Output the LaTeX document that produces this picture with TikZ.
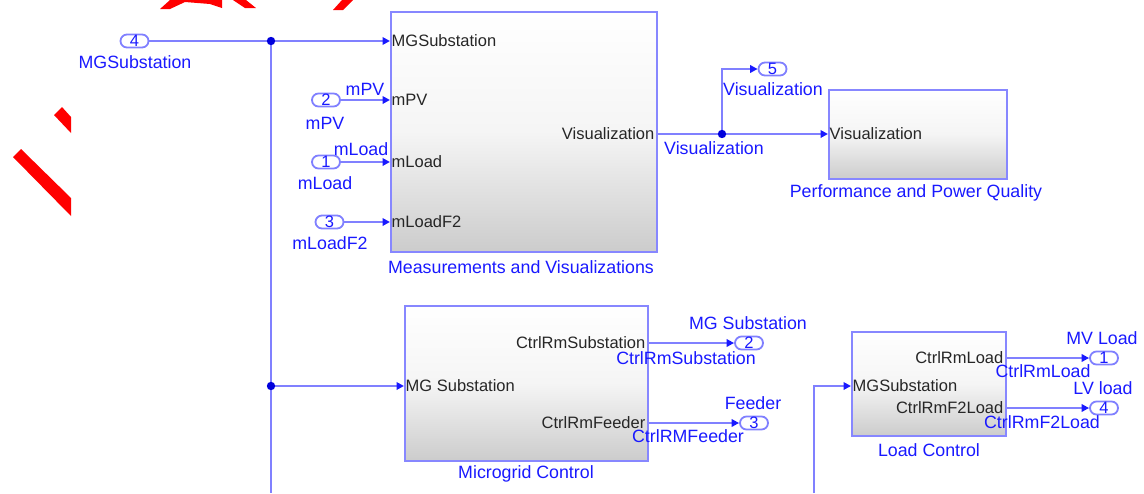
\documentclass[tikz,border=0pt]{standalone}
\usepackage{fontspec}
\setmainfont{Liberation Sans}
\usepackage{xcolor}
\usetikzlibrary{arrows.meta,shadows}

\definecolor{wire}{RGB}{128,128,255}
\definecolor{sigblue}{RGB}{25,25,255}
\definecolor{frameblue}{RGB}{135,135,255}
\definecolor{dotblue}{RGB}{0,0,220}

\tikzset{
    wireplain/.style={draw=wire, line width=2.9pt},
    wireline/.style={wireplain, -{Triangle[length=7.5pt,width=7.5pt,color=sigblue]}},
    blockbox/.style={draw=frameblue, line width=1.6pt, top color=white, bottom color=black!20,
        middle color=black!4, anchor=north west, inner sep=0pt,
        drop shadow={shadow xshift=1.5pt, shadow yshift=-1.5pt, opacity=0.25}},
    porttxt/.style={text=black!85, font=\fontsize{16.5}{19}\selectfont, inner sep=1.5pt},
    lbl/.style={text=sigblue, font=\fontsize{17.8}{20}\selectfont, inner sep=0pt},
    portoval/.style={draw=wire, fill=white, line width=1.8pt, rounded corners=6.5pt,
        minimum width=28pt, minimum height=13pt, inner sep=0pt, text=sigblue,
        font=\fontsize{16.5}{16.5}\selectfont},
}

\begin{document}
\begin{tikzpicture}[x=1pt, y=-1pt]
    \useasboundingbox (0,0) rectangle (1144,493);

    \fill[red] (160,9) -- (170,0) -- (222,0) -- (222,8) -- (210,4) -- (185,2) -- (170,9) -- cycle;
    \fill[red] (233,0) -- (246,0) -- (256,8) -- (245,8) -- cycle;
    \fill[red] (342,0) -- (353,0) -- (343,10) -- (333,10) -- cycle;
    \fill[red] (54,115) -- (62,107) -- (71,117) -- (71,133) -- cycle;
    \fill[red] (13,157) -- (21,149) -- (71,198) -- (71,216) -- cycle;

    % blocks
    \node[blockbox, minimum width=266, minimum height=240] (meas) at (390,11) {};
    \node[blockbox, minimum width=178, minimum height=89] (perf) at (828,89) {};
    \node[blockbox, minimum width=243, minimum height=155] (mc) at (404,305) {};
    \node[blockbox, minimum width=154, minimum height=104] (lc) at (851,331) {};

    \node[porttxt, anchor=west] (mMG) at (390,41) {MGSubstation};
    \node[porttxt, anchor=west] (mPV) at (390,100) {mPV};
    \node[porttxt, anchor=west] (mLoad) at (390,162) {mLoad};
    \node[porttxt, anchor=west] (mLoadF) at (390,222) {mLoadF2};
    \node[porttxt, anchor=east] (mVis) at (656,134) {Visualization};
    \node[porttxt, anchor=west] (pVis) at (828,134) {Visualization};
    \node[porttxt, anchor=west] (mcIn) at (404,386) {MG Substation};
    \node[porttxt, anchor=east] (mcSub) at (647,343) {CtrlRmSubstation};
    \node[porttxt, anchor=east] (mcFeed) at (647,423) {CtrlRmFeeder};
    \node[porttxt, anchor=west] (lcIn) at (851,386) {MGSubstation};
    \node[porttxt, anchor=east] (lcLoad) at (1005,358) {CtrlRmLoad};
    \node[porttxt, anchor=east] (lcF2) at (1005,408) {CtrlRmF2Load};

    \node[lbl] (measName) at (521,267) {Measurements and Visualizations};
    \node[lbl] (perfName) at (916,193) {Performance and Power Quality};
    \node[lbl] (mcName) at (526,474) {Microgrid Control};
    \node[lbl] (lcName) at (929,450) {Load Control};

    % ports
    \node[portoval] (in4) at (134.5,41) {4};
    \node[portoval] (in2) at (326,100) {2};
    \node[portoval] (in1) at (326,162) {1};
    \node[portoval] (in3) at (329.5,222) {3};
    \node[portoval] (out5) at (772.5,69) {5};
    \node[portoval] (out2) at (749,343) {2};
    \node[portoval] (out3) at (754,423) {3};
    \node[portoval] (out1) at (1104,358) {1};
    \node[portoval] (out4) at (1104,408) {4};

    \node[lbl] (in4Name) at (135,62) {MGSubstation};
    \node[lbl] (in2Name) at (325,123) {mPV};
    \node[lbl] (in2Sig) at (365,89) {mPV};
    \node[lbl] (in1Name) at (325,183) {mLoad};
    \node[lbl] (in1Sig) at (361,149) {mLoad};
    \node[lbl] (in3Name) at (330,243) {mLoadF2};
    \node[lbl] (out5Name) at (773,89) {Visualization};
    \node[lbl] (visSig) at (714,148) {Visualization};
    \node[lbl] (out2Name) at (748,323) {MG Substation};
    \node[lbl] (subSig) at (686,358) {CtrlRmSubstation};
    \node[lbl] (out3Name) at (753,403) {Feeder};
    \node[lbl] (feedSig) at (688,436) {CtrlRMFeeder};
    \node[lbl] (out1Name) at (1102,338) {MV Load};
    \node[lbl] (loadSig) at (1043,371) {CtrlRmLoad};
    \node[lbl] (out4Name) at (1103,388) {LV load};
    \node[lbl] (f2Sig) at (1042,422) {CtrlRmF2Load};

    \coordinate (jm) at (271,41);
    \coordinate (jc) at (271,386);
    \coordinate (busfoot) at (271,493);
    \coordinate (jv) at (722,134);
    \coordinate (lcfoot) at (814,493);

    % wires
    \draw[wireplain] (in4.east) -- (jm);
    \draw[wireline] (jm) -- (meas.west |- mMG);
    \draw[wireplain] (jm) -- (busfoot);
    \draw[wireline] (jc) -- (mc.west |- mcIn);
    \draw[wireline] (in2.east) -- (meas.west |- mPV);
    \draw[wireline] (in1.east) -- (meas.west |- mLoad);
    \draw[wireline] (in3.east) -- (meas.west |- mLoadF);
    \draw[wireplain] (meas.east |- mVis) -- (jv);
    \draw[wireline] (jv) -- (perf.west |- pVis);
    \draw[wireline] (jv) |- (out5.west);
    \draw[wireline] (mc.east |- mcSub) -- (out2.west);
    \draw[wireline] (mc.east |- mcFeed) -- (out3.west);
    \draw[wireline] (lcfoot) |- (lc.west |- lcIn);
    \draw[wireline] (lc.east |- lcLoad) -- (out1.west);
    \draw[wireline] (lc.east |- lcF2) -- (out4.west);

    \foreach \j in {jm, jc, jv}
        \fill[dotblue] (\j) circle (4.2);
\end{tikzpicture}
\end{document}
